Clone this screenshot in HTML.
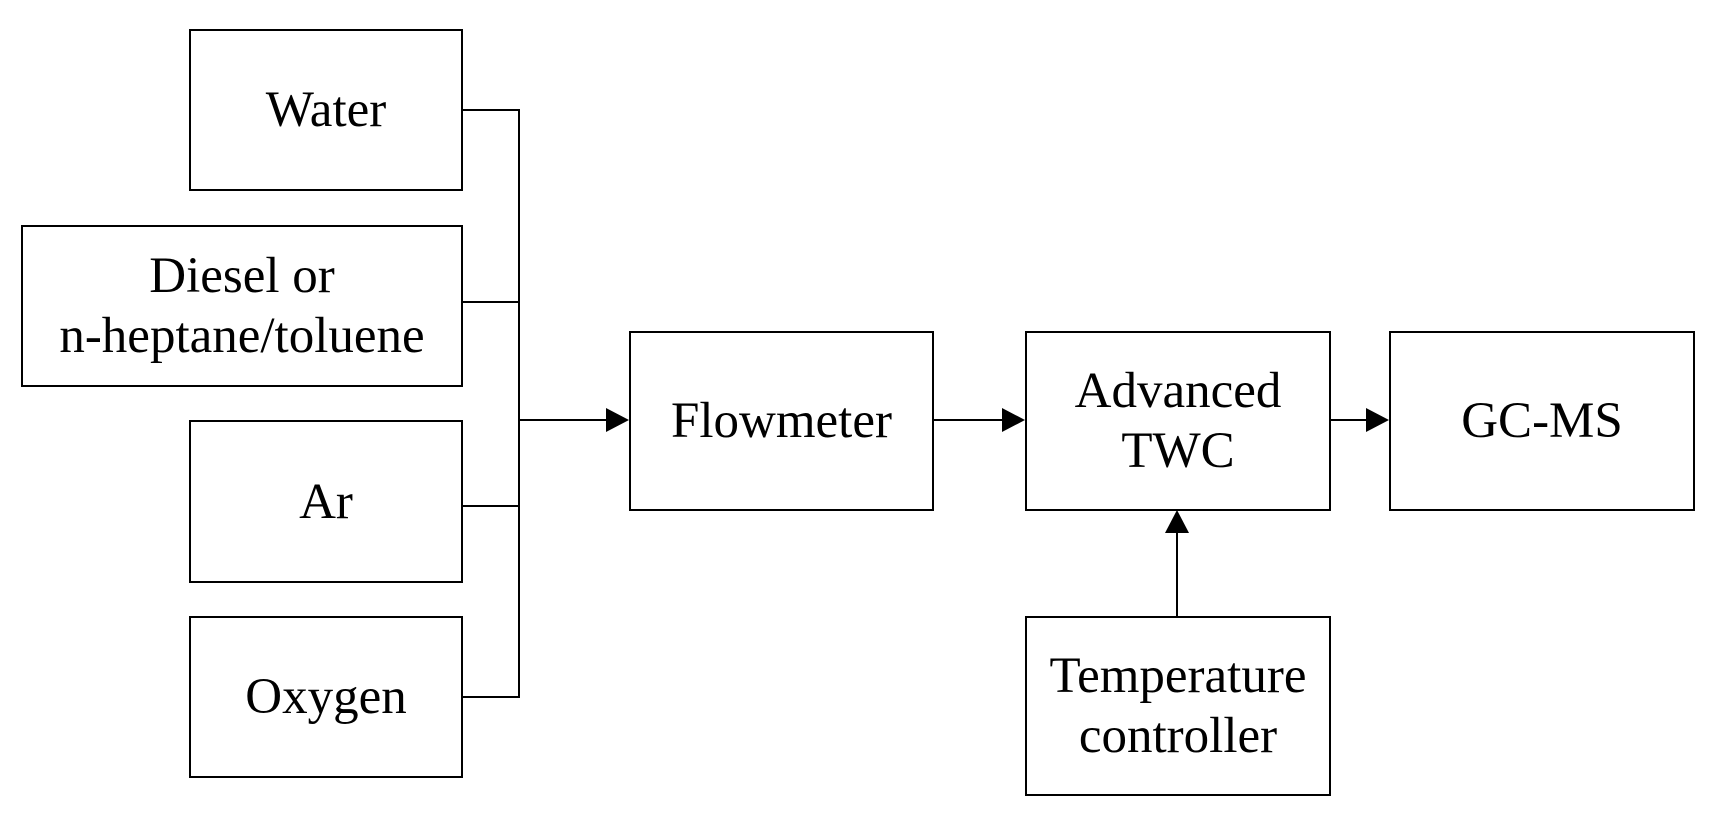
<!DOCTYPE html>
<html><head><style>
html,body{margin:0;padding:0;background:#fff;}
body{width:1716px;height:819px;position:relative;overflow:hidden;font-family:"Liberation Serif",serif;}
.b{position:absolute;box-sizing:border-box;border:2.5px solid #000;display:flex;align-items:center;justify-content:center;text-align:center;font-size:51px;line-height:60px;color:#000;white-space:nowrap;}
svg{position:absolute;left:0;top:0;}
</style></head><body>
<svg width="1716" height="819">
<g stroke="#000" stroke-width="2" fill="none">
<line x1="461" y1="110" x2="520" y2="110"/>
<line x1="461" y1="302" x2="520" y2="302"/>
<line x1="461" y1="506" x2="520" y2="506"/>
<line x1="461" y1="697" x2="520" y2="697"/>
<line x1="519" y1="109" x2="519" y2="698"/>
<line x1="519" y1="420" x2="608" y2="420"/>
<line x1="933" y1="420" x2="1004" y2="420"/>
<line x1="1329" y1="420" x2="1368" y2="420"/>
<line x1="1177" y1="616" x2="1177" y2="532"/>
</g>
<g fill="#000">
<polygon points="629,420 606,408 606,432"/>
<polygon points="1025,420 1002,408 1002,432"/>
<polygon points="1389,420 1366,408 1366,432"/>
<polygon points="1177,510 1165,533 1189,533"/>
</g>
</svg>
<div class="b" style="left:189px;top:29px;width:274px;height:162px;">Water</div>
<div class="b" style="left:21px;top:225px;width:442px;height:162px;">Diesel or<br>n-heptane/toluene</div>
<div class="b" style="left:189px;top:420px;width:274px;height:163px;">Ar</div>
<div class="b" style="left:189px;top:616px;width:274px;height:162px;">Oxygen</div>
<div class="b" style="left:629px;top:331px;width:305px;height:180px;">Flowmeter</div>
<div class="b" style="left:1025px;top:331px;width:306px;height:180px;">Advanced<br>TWC</div>
<div class="b" style="left:1389px;top:331px;width:306px;height:180px;">GC-MS</div>
<div class="b" style="left:1025px;top:616px;width:306px;height:180px;">Temperature<br>controller</div>
</body></html>
